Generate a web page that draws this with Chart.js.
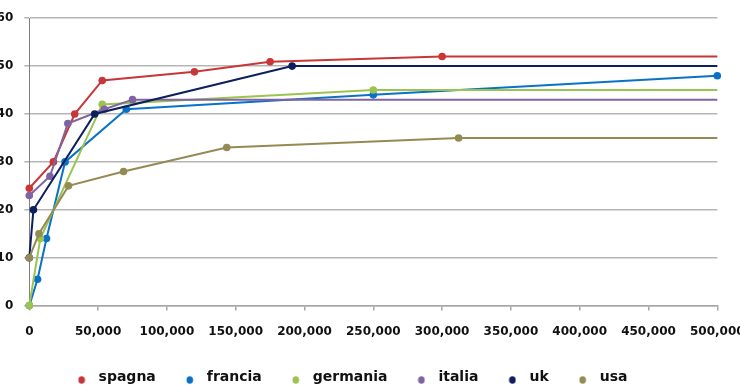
<!DOCTYPE html>
<html>
<head>
<meta charset="utf-8">
<script src="https://cdn.jsdelivr.net/npm/chart.js@4.4.1/dist/chart.umd.min.js"></script>
<style>
  html, body { margin: 0; padding: 0; background: #fff; overflow: hidden; }
  #wrap { position: relative; width: 740px; height: 389px; overflow: hidden; }
  #chart { position: absolute; left: -41px; top: 0; }
</style>
</head>
<body>
<div id="wrap"><canvas id="chart" width="781" height="394"></canvas></div>
<script>
///////////////////////////////////////////////////////////////////////////
// DATA
///////////////////////////////////////////////////////////////////////////
var seriesNames  = ['spagna', 'francia', 'germania', 'italia', 'uk', 'usa'];
var seriesColors = ['#c93638', '#0a72c6', '#9bc350', '#8064a2', '#0d1f5c', '#948a54'];

var spagnaX   = [0, 17500, 33000, 53000, 120000, 175000, 300000, 500000];
var spagnaY   = [24.5, 30, 40, 47, 48.8, 50.9, 52, 52];
var franciaX  = [0, 6000, 12500, 26000, 70500, 250000, 500000];
var franciaY  = [0, 5.5, 14, 30, 41, 44, 48];
var germaniaX = [0, 8000, 53000, 250000, 500000];
var germaniaY = [0, 14, 42, 45, 45];
var italiaX   = [0, 15000, 28000, 54500, 75000, 500000];
var italiaY   = [23, 27, 38, 41, 43, 43];
var ukX       = [0, 3000, 47500, 191000, 500000];
var ukY       = [10, 20, 40, 50, 50];
var usaX      = [0, 7000, 28500, 68500, 143500, 312000, 500000];
var usaY      = [10, 15, 25, 28, 33, 35, 35];

var seriesX = [spagnaX, franciaX, germaniaX, italiaX, ukX, usaX];
var seriesY = [spagnaY, franciaY, germaniaY, italiaY, ukY, usaY];

var xMax = 500000, xStep = 50000;
var yMax = 60, yStep = 10;

///////////////////////////////////////////////////////////////////////////
// HELPERS
///////////////////////////////////////////////////////////////////////////
function toPoints(xs, ys){
    var pts = [];
    for (var i = 0; i < xs.length; i++) pts.push({x: xs[i], y: ys[i]});
    return pts;
}

// small dot image for the legend, sitting a bit below the text middle
function legendDot(color){
    var c = document.createElement('canvas');
    c.width = 8; c.height = 14;
    var g = c.getContext('2d');
    g.fillStyle = color;
    g.beginPath();
    g.ellipse(4, 10, 3.3, 3.8, 0, 0, Math.PI * 2);
    g.fill();
    return c;
}

var legendDots = seriesColors.map(legendDot);

var datasets = seriesNames.map(function(name, i){
    return {
        label: name,
        data: toPoints(seriesX[i], seriesY[i]),
        order: seriesNames.length - i,   // later series are drawn on top
        borderColor: seriesColors[i],
        backgroundColor: seriesColors[i],
        pointBackgroundColor: seriesColors[i],
        pointBorderWidth: 0,
        // the flat run-out to the right edge carries no marker
        pointRadius: function(ctx){
            var d = ctx.dataset.data, k = ctx.dataIndex;
            if (k > 0 && k === d.length - 1 && d[k].y === d[k - 1].y) return 0;
            return 3.8;
        },
        borderWidth: 2,
        tension: 0,
        clip: false
    };
});

///////////////////////////////////////////////////////////////////////////
// CHART
///////////////////////////////////////////////////////////////////////////
var ctx = document.getElementById('chart').getContext('2d');
var chart = new Chart(ctx, {
    type: 'line',
    data: { datasets: datasets },
    options: {
        responsive: false,
        devicePixelRatio: 1,
        animation: false,
        layout: { padding: { top: 15, right: 0, bottom: 0, left: 0 } },
        plugins: {
            tooltip: { enabled: false },
            legend: {
                position: 'bottom',
                labels: {
                    usePointStyle: true,
                    pointStyleWidth: 20,
                    padding: 24,
                    color: '#111',
                    font: { family: 'DejaVu Sans', size: 14, weight: 'bold' },
                    generateLabels: function(chart){
                        var items = Chart.defaults.plugins.legend.labels.generateLabels(chart);
                        items.forEach(function(it){ it.pointStyle = legendDots[it.datasetIndex]; });
                        return items;
                    },
                    sort: function(a, b){ return a.datasetIndex - b.datasetIndex; }
                }
            }
        },
        scales: {
            x: {
                type: 'linear',
                min: 0,
                max: xMax,
                afterFit: function(s){ s.height = 40.4; s.paddingRight = 22.7; s.paddingLeft = 0; },
                ticks: {
                    stepSize: xStep,
                    padding: 14,
                    color: '#111',
                    font: { family: 'DejaVu Sans', size: 12, weight: 'bold' },
                    maxRotation: 0,
                    callback: function(v){ return v.toLocaleString('en-US'); }
                },
                grid: { drawOnChartArea: false, drawTicks: true, tickLength: 5, color: '#a6a6a6', lineWidth: 1.5 },
                border: { color: '#a6a6a6', width: 1.5 }
            },
            y: {
                min: 0,
                max: yMax,
                afterFit: function(s){ s.width = 70.3; },
                ticks: {
                    stepSize: yStep,
                    padding: 11,
                    color: '#111',
                    font: { family: 'DejaVu Sans', size: 12, weight: 'bold' }
                },
                grid: { color: '#b5b5b5', lineWidth: 1.5, tickLength: 5 },
                border: { color: '#7f7f7f', width: 1 }
            }
        }
    }
});
</script>
</body>
</html>
